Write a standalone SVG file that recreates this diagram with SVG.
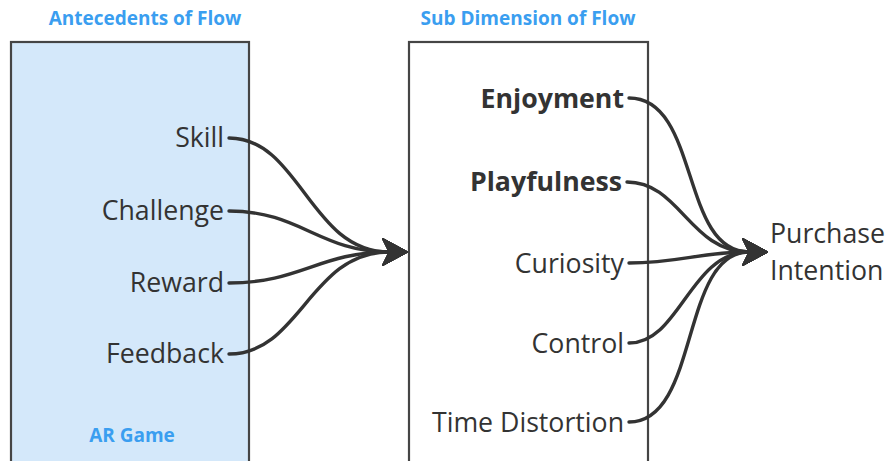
<svg xmlns="http://www.w3.org/2000/svg" width="886" height="461" viewBox="0 0 886 461">
<defs>
<style>
.box{stroke:#454545;stroke-width:2.2}
.title{font-family:"Open Sans","Noto Sans",sans-serif;font-weight:bold;font-size:19px;fill:#3a9ef0}
.lbl{font-family:"Open Sans","Noto Sans",sans-serif;font-size:26.7px;fill:#333;text-anchor:end}
.b{font-weight:bold}
.c{fill:none;stroke:#333;stroke-width:3.4;stroke-linecap:round}
</style>
<marker id="ah" viewBox="0 0 26 28" refX="7" refY="14" markerWidth="26" markerHeight="28" markerUnits="userSpaceOnUse" orient="auto">
<path d="M0,0 L26,14 L0,28 L7,14 Z" fill="#333" stroke="#333" stroke-width="1" stroke-linejoin="round"/>
</marker>
</defs>
<rect width="886" height="461" fill="#fff"/>
<g id="antecedents">
<rect class="box" x="11" y="42" width="238" height="440" fill="#d4e8fa"/>
<text class="title" x="145" y="25" text-anchor="middle">Antecedents of Flow</text>
<text class="title" x="132" y="442" text-anchor="middle">AR Game</text>
</g>
<g id="subdimension">
<rect class="box" x="409" y="42" width="239" height="440" fill="#fff"/>
<text class="title" x="528" y="25" text-anchor="middle">Sub Dimension of Flow</text>
</g>
<g id="skill"><text class="lbl" x="224" y="147">Skill</text></g>
<g id="challenge"><text class="lbl" x="224" y="220">Challenge</text></g>
<g id="reward"><text class="lbl" x="224" y="292">Reward</text></g>
<g id="feedback"><text class="lbl" x="224" y="363">Feedback</text></g>
<g id="enjoyment"><text class="lbl b" x="624" y="108">Enjoyment</text></g>
<g id="playfulness"><text class="lbl b" x="622" y="191">Playfulness</text></g>
<g id="curiosity"><text class="lbl" x="624" y="273">Curiosity</text></g>
<g id="control"><text class="lbl" x="624" y="353">Control</text></g>
<g id="timedistortion"><text class="lbl" x="624" y="432">Time Distortion</text></g>
<g id="purchase">
<text class="lbl" x="770" y="243" style="text-anchor:start">Purchase</text>
<text class="lbl" x="770" y="280" style="text-anchor:start">Intention</text>
</g>
<g id="connectors">
<path class="c" d="M229,138 C300,138 310,252 389,252" marker-end="url(#ah)"/>
<path class="c" d="M229,211 C300,211 320,252 389,252" marker-end="url(#ah)"/>
<path class="c" d="M229,283 C300,283 320,252 389,252" marker-end="url(#ah)"/>
<path class="c" d="M229,354 C300,354 310,252 389,252" marker-end="url(#ah)"/>
<path class="c" d="M629,98 C700,98 680,252 749,252" marker-end="url(#ah)"/>
<path class="c" d="M627,182 C680,182 690,252 749,252" marker-end="url(#ah)"/>
<path class="c" d="M629,263 C680,263 700,252 749,252" marker-end="url(#ah)"/>
<path class="c" d="M629,343 C680,343 690,252 749,252" marker-end="url(#ah)"/>
<path class="c" d="M629,422 C700,422 680,252 749,252" marker-end="url(#ah)"/>
</g>
</svg>
